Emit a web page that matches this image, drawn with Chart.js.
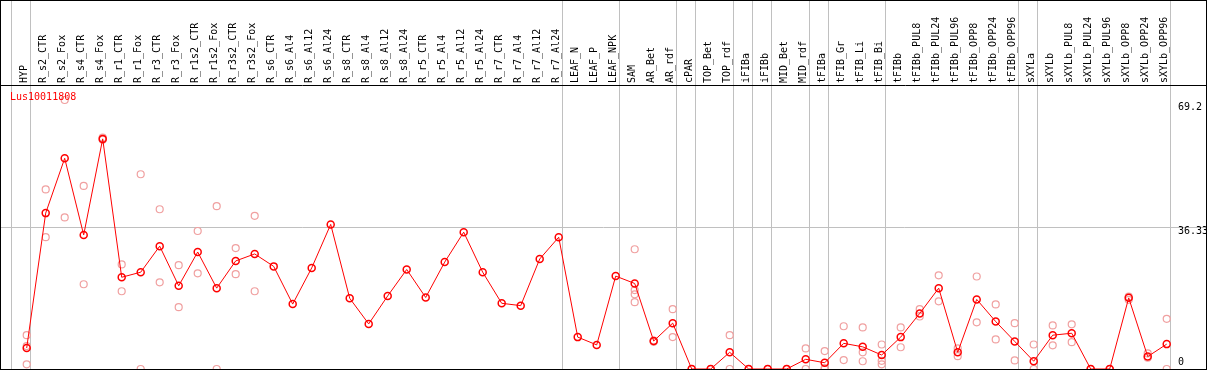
<!DOCTYPE html>
<html>
<head>
  <meta charset="UTF-8">
  <title>Lus10011808</title>
  <script src="https://cdn.jsdelivr.net/npm/chart.js"></script>
  <style>
    body { margin: 0; background: #fff; }
    .frame {
      position: absolute;
      left: 0;
      top: 0;
      width: 1205px;
      height: 368px;
      border: 1px solid #000;
    }
    .gene {
      position: absolute;
      left: 9px;
      top: 90px;
      font: 10px/12px 'DejaVu Sans Mono', monospace;
      color: #ff0000;
    }
  </style>
</head>
<body>
  <div class="frame">
    <canvas id="expr" width="1205" height="368"></canvas>
    <div class="gene">Lus10011808</div>
  </div>
  <script>
    // samples, left to right
    const categories = [
      'HYP', 'R_s2_CTR', 'R_s2_Fox', 'R_s4_CTR', 'R_s4_Fox', 'R_r1_CTR', 'R_r1_Fox',
      'R_r3_CTR', 'R_r3_Fox', 'R_r1s2_CTR', 'R_r1s2_Fox', 'R_r3s2_CTR', 'R_r3s2_Fox',
      'R_s6_CTR', 'R_s6_Al4', 'R_s6_Al12', 'R_s6_Al24', 'R_s8_CTR', 'R_s8_Al4', 'R_s8_Al12',
      'R_s8_Al24', 'R_r5_CTR', 'R_r5_Al4', 'R_r5_Al12', 'R_r5_Al24', 'R_r7_CTR', 'R_r7_Al4',
      'R_r7_Al12', 'R_r7_Al24', 'LEAF_N', 'LEAF_P', 'LEAF_NPK', 'SAM', 'AR_Bet', 'AR_rdf',
      'cPAR', 'TOP_Bet', 'TOP_rdf', 'iFIBa', 'iFIBb', 'MID_Bet', 'MID_rdf', 'tFIBa',
      'tFIB_Gr', 'tFIB_Li', 'tFIB_Bi', 'tFIBb', 'tFIBb_PUL8', 'tFIBb_PUL24', 'tFIBb_PUL96',
      'tFIBb_OPP8', 'tFIBb_OPP24', 'tFIBb_OPP96', 'sXYLa', 'sXYLb', 'sXYLb_PUL8',
      'sXYLb_PUL24', 'sXYLb_PUL96', 'sXYLb_OPP8', 'sXYLb_OPP24', 'sXYLb_OPP96'
    ];

    // mean expression per sample
    const meanValues = [
      5.4, 40.1, 54.2, 34.5, 59.2, 23.6, 24.9, 31.6, 21.4, 30.1, 20.8, 27.8, 29.6,
      26.4, 16.7, 26.0, 37.2, 18.2, 11.6, 18.8, 25.6, 18.4, 27.5, 35.2, 24.9, 16.9, 16.3,
      28.3, 33.9, 8.2, 6.2, 23.9, 22.0, 7.2, 11.8, 0, 0, 4.3, 0, 0, 0, 2.5, 1.6,
      6.6, 5.7, 3.6, 8.2, 14.3, 20.8, 4.3, 17.9, 12.2, 7.1, 2.0, 8.7, 9.2,
      0, 0, 18.3, 3.2, 6.4
    ];

    // single replicates per sample
    const replicateValues = [
      [8.7, 5.9, 1.2], [46.2, 33.9], [69.2, 39.0], [47.1, 21.8], [59.5, 59.0], [26.9, 20.0],
      [50.1, 0], [41.1, 22.3], [26.7, 15.9], [35.5, 24.6], [41.9, 0], [31.1, 24.4], [39.4, 20.0],
      [], [], [], [], [], [], [], [], [], [], [], [], [], [], [], [],
      [], [], [], [30.8, 20.3, 19.2, 17.2], [7.3, 7.0], [15.4, 8.2],
      [0, 0], [0, 0], [8.7, 0], [0, 0], [0, 0], [0, 0], [5.3, 0], [4.6, 0.2, 0],
      [11.0, 2.3], [10.7, 4.3, 2.0], [6.3, 2.1, 1.2], [10.7, 5.6], [15.4, 13.5], [24.1, 17.4],
      [5.3, 3.3], [23.8, 12.0], [16.6, 7.6], [11.8, 2.2], [6.3, 0], [11.2, 6.1], [11.5, 6.9],
      [0, 0], [0, 0], [18.6, 17.8], [4.0, 2.9], [12.9, 0]
    ];

    // group separators come right after these sample indexes
    const separatorAfter = [-1, 0, 28, 31, 34, 35, 37, 38, 39, 41, 42, 45, 52, 53, 60];
    const yTickValues = [0, 36.33, 69.2];

    const meanPoints = meanValues.map((v, i) => ({ x: i, y: v }));
    const repPoints = [];
    replicateValues.forEach((reps, i) => reps.forEach(v => repPoints.push({ x: i, y: v })));

    const sepPos = separatorAfter.map(i => i + 0.19);
    const monoFont = { family: 'DejaVu Sans Mono', size: 10 };
    const yMax = 73.06;
    // where each y label sits (drawn just inside the line it belongs to)
    const yLabelPos = [1.8, 35.3, 67.4];

    function noPadding(scale) {
      scale.paddingTop = 0;
      scale.paddingBottom = 0;
      scale.paddingLeft = 0;
      scale.paddingRight = 0;
    }

    new Chart(document.getElementById('expr').getContext('2d'), {
      type: 'line',
      data: {
        datasets: [
          {
            type: 'line',
            data: meanPoints,
            borderColor: '#ff0000',
            borderWidth: 1,
            pointRadius: 3.5,
            pointBorderWidth: 1.5,
            pointBorderColor: '#ff0000',
            pointBackgroundColor: 'rgba(255,255,255,0)',
            tension: 0,
            order: 0
          },
          {
            type: 'scatter',
            data: repPoints,
            showLine: false,
            pointRadius: 3.5,
            pointBorderWidth: 1.2,
            pointBorderColor: '#f0a0a0',
            pointBackgroundColor: 'rgba(255,255,255,0)',
            order: 1
          }
        ]
      },
      options: {
        responsive: false,
        animation: false,
        devicePixelRatio: 1,
        layout: { padding: 0, autoPadding: false },
        plugins: { legend: { display: false }, tooltip: { enabled: false } },
        scales: {
          x: {
            type: 'linear',
            position: 'top',
            min: -1.3526,
            max: 62.068,
            afterBuildTicks: scale => {
              scale.ticks = categories.map((c, i) => ({ value: i }))
                .concat(sepPos.map(v => ({ value: v })));
            },
            afterFit: scale => { scale.height = 84; noPadding(scale); },
            grid: {
              color: ctx => (ctx.tick && Number.isInteger(ctx.tick.value)) ? 'rgba(0,0,0,0)' : '#c0c0c0',
              lineWidth: 1,
              drawTicks: true,
              tickLength: 84
            },
            border: { display: true, color: '#000', width: 1 },
            ticks: {
              autoSkip: false,
              minRotation: 90,
              maxRotation: 90,
              padding: -82,
              color: '#000',
              font: { family: 'DejaVu Sans Mono', size: 10, lineHeight: 0.24 },
              callback: value => Number.isInteger(value) ? categories[value] : ''
            }
          },
          y: {
            type: 'linear',
            position: 'left',
            min: 0,
            max: yMax,
            afterBuildTicks: scale => { scale.ticks = [{ value: yTickValues[1] }]; },
            afterFit: scale => { scale.width = 0; noPadding(scale); },
            grid: { color: '#c0c0c0', drawTicks: false },
            border: { display: false },
            ticks: { display: false }
          },
          yLabels: {
            type: 'linear',
            position: 'left',
            min: 0,
            max: yMax,
            afterBuildTicks: scale => { scale.ticks = yLabelPos.map(v => ({ value: v })); },
            afterFit: scale => { scale.width = 0; noPadding(scale); },
            grid: { display: false, drawTicks: false },
            border: { display: false },
            ticks: {
              mirror: true,
              padding: 1177,
              crossAlign: 'near',
              color: '#000',
              font: monoFont,
              callback: (value, index) => String(yTickValues[index])
            }
          }
        }
      }
    });
  </script>
</body>
</html>
